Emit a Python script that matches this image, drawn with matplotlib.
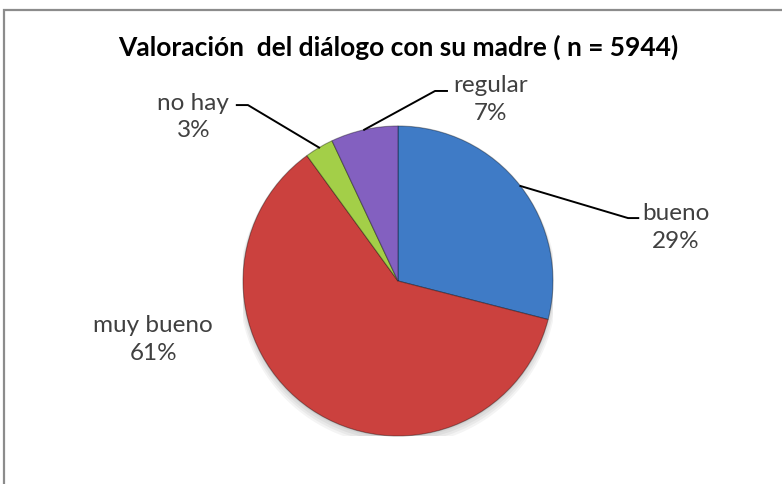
import matplotlib
matplotlib.use("Agg")
import matplotlib.pyplot as plt
import numpy as np
from matplotlib.patches import Rectangle

# data
categories = ["bueno", "muy bueno", "no hay", "regular"]
percents = [29, 61, 3, 7]
colors = ["#3F7BC6", "#CB413E", "#A3CF48", "#8360C0"]
title = "Valoración  del diálogo con su madre ( n = 5944)"

plt.rcParams['font.family'] = ['Lato', 'DejaVu Sans']

W, H = 782, 485
fig = plt.figure(figsize=(W / 100, H / 100), dpi=100)
fig.patch.set_facecolor("white")

# outer frame of the chart area (cut off on right and bottom)
fig.patches.append(Rectangle((4 / W, -0.05), 1.1, 1 - 11 / H + 0.05,
                             transform=fig.transFigure, fill=False,
                             edgecolor="#8c8c8c", linewidth=1.6))

cx, cy, r = 398, 282, 155
ax = fig.add_axes([(cx - r) / W, (H - cy - r) / H, 2 * r / W, 2 * r / H])
ax.axis("off")

# soft shadow
for i in range(4):
    ax.add_patch(plt.Circle((0.0, -0.015 - 0.008 * i), 1.0 + 0.008 * i,
                            color="black", alpha=0.045, lw=0, zorder=0))

wedges, _ = ax.pie(percents, colors=colors, startangle=90, counterclock=False,
                   radius=1.0,
                   wedgeprops=dict(edgecolor=(0, 0, 0, 0.35), linewidth=0.8))
for w in wedges:
    w.set_zorder(2)
ax.set_aspect("equal")
ax.set_xlim(-1.0, 1.0)
ax.set_ylim(-1.0, 1.0)

# labels (text centre in data units) and leader line elbows
label_pos = {
    "bueno": (1.79, 0.35),
    "muy bueno": (-1.58, -0.37),
    "no hay": (-1.32, 1.065),
    "regular": (0.60, 1.175),
}
elbows = {
    "bueno": [(1.484, 0.406), (1.55, 0.406)],
    "no hay": [(-0.968, 1.135), (-1.04, 1.135)],
    "regular": [(0.239, 1.226), (0.316, 1.226)],
}

for w, cat, p in zip(wedges, categories, percents):
    mid = np.deg2rad((w.theta1 + w.theta2) / 2)
    x0, y0 = np.cos(mid), np.sin(mid)
    if cat in elbows:
        pts = [(x0, y0)] + elbows[cat]
        xs, ys = zip(*pts)
        ax.plot(xs, ys, color="black", lw=1.4, clip_on=False, zorder=3)
    tx, ty = label_pos[cat]
    ax.text(tx, ty, f"{cat}\n{p}%", ha="center", va="center", fontsize=17.5,
            color="#404040", linespacing=1.4, clip_on=False)

fig.text(398 / W, 1 - 47 / H, title, ha="center", va="center",
         fontsize=19, fontweight="bold", color="black")

fig.savefig("out.png", dpi=100)
